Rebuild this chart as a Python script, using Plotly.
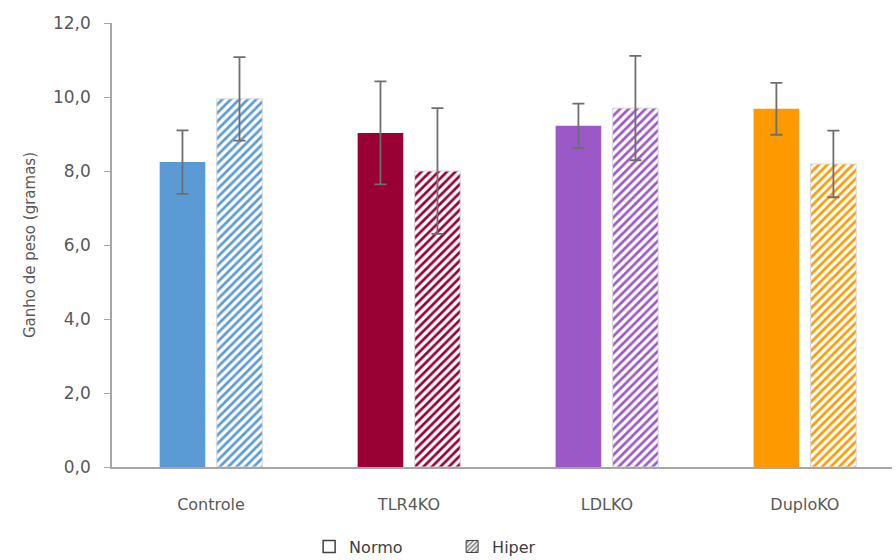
import plotly.graph_objects as go

# Weight gain (grams) per genotype, normal vs. high-fat diet
grupos = ["Controle", "TLR4KO", "LDLKO", "DuploKO"]
normo = [8.24, 9.03, 9.22, 9.68]
normo_dp = [0.86, 1.39, 0.60, 0.70]
hiper = [9.95, 8.0, 9.70, 8.19]
hiper_dp = [1.13, 1.70, 1.41, 0.90]
cores = ["#5B9BD5", "#990033", "#9B59C8", "#FF9900"]

fig = go.Figure()

err_style = dict(type="data", visible=True, color="#6e6e6e", thickness=1.8, width=6)

fig.add_trace(go.Bar(
    x=grupos, y=normo, name="Normo", showlegend=False, offsetgroup="n",
    marker=dict(color=cores, line=dict(width=0)),
    error_y=dict(array=normo_dp, **err_style),
))

fig.add_trace(go.Bar(
    x=grupos, y=hiper, name="Hiper", showlegend=False, offsetgroup="h",
    marker=dict(
        color="white",
        line=dict(color="#d9d9d9", width=1),
        pattern=dict(shape="/", fgcolor=cores, bgcolor="white",
                     size=6, solidity=0.45, fillmode="replace"),
    ),
    error_y=dict(array=hiper_dp, **err_style),
))

# Legend entries (neutral swatches), sharing the offset groups of the real bars
fig.add_trace(go.Bar(
    x=[None], y=[None], name="Normo", offsetgroup="n",
    marker=dict(color="white", line=dict(color="#404040", width=1.5)),
))
fig.add_trace(go.Bar(
    x=[None], y=[None], name="Hiper", offsetgroup="h",
    marker=dict(color="white", line=dict(color="#404040", width=1),
                pattern=dict(shape="/", fgcolor="black", bgcolor="white",
                             size=4, solidity=0.5)),
))

font_fam = "DejaVu Sans, sans-serif"

fig.update_layout(
    width=896, height=560,
    margin=dict(l=112, r=4, t=23, b=93),
    plot_bgcolor="white", paper_bgcolor="white",
    separators=",.",
    barmode="group", bargap=0.424, bargroupgap=0.2,
    font=dict(family=font_fam, size=15, color="#595959"),
    showlegend=True,
    legend=dict(orientation="h", xref="container", yref="container",
                x=0.345, xanchor="left", y=0.024, yanchor="middle",
                entrywidth=98, entrywidthmode="pixels",
                font=dict(size=16, color="#404040"), traceorder="normal"),
    xaxis=dict(
        range=[-0.5, 3.44],
        showline=True, linecolor="#a6a6a6", linewidth=1.5,
        ticks="", showgrid=False, ticklabelstandoff=22,
        tickfont=dict(size=16, color="#595959"),
    ),
    yaxis=dict(
        range=[0, 12], dtick=2, tickformat=".1f",
        showline=True, linecolor="#a6a6a6", linewidth=1.5,
        ticks="outside", ticklen=6, tickcolor="#a6a6a6",
        showgrid=False, zeroline=False, ticklabelstandoff=10,
        tickfont=dict(size=17, color="#595959"),
        title=dict(text="Ganho de peso (gramas)", font=dict(size=15, color="#595959"), standoff=14),
    ),
)

fig.write_html("out.html")
